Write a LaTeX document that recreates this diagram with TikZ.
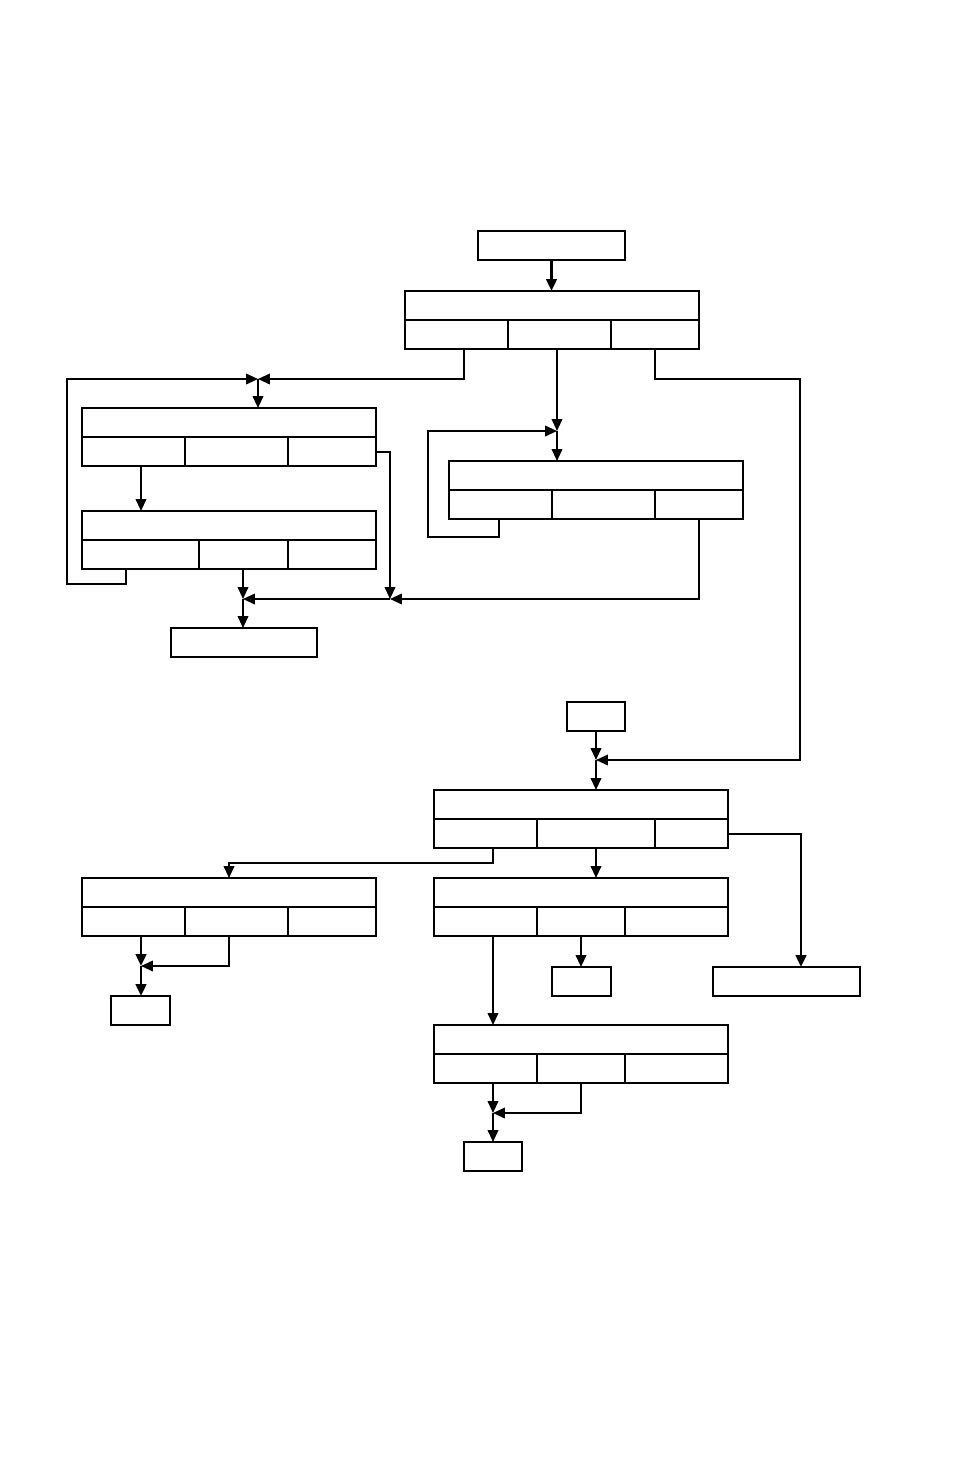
\documentclass[tikz,border=0pt]{standalone}
\usetikzlibrary{arrows.meta,calc}
\tikzset{
  box/.style={draw, line width=1.1pt, inner sep=0pt, outer sep=0pt},
  arr/.style={-{Triangle[length=6.8pt,width=6pt]}, line width=1.1pt},
}
\newcommand{\bx}[5]{\node[box, anchor=north west, minimum width={(#4-#2)*0.02cm}, minimum height={(#5-#3)*0.02cm}] (#1) at (#2,#3) {};}
% name x1 x2 y1 ysplit y2 d1 d2
\newcommand{\tri}[8]{%
  \bx{#1t}{#2}{#4}{#3}{#5}
  \bx{#1a}{#2}{#5}{#7}{#6}
  \bx{#1b}{#7}{#5}{#8}{#6}
  \bx{#1c}{#8}{#5}{#3}{#6}}
\begin{document}
\begin{tikzpicture}[x=0.02cm,y=-0.02cm]
\useasboundingbox (0,0) rectangle (954,1474);
% boxes
\bx{top}{478}{231}{625}{260}
\tri{A}{405}{699}{291}{320}{349}{508}{611}
\tri{B}{82}{376}{408}{437}{466}{185}{288}
\tri{C}{82}{376}{511}{540}{569}{199}{288}
\bx{D}{171}{628}{317}{657}
\tri{E}{449}{743}{461}{490}{519}{552}{655}
\bx{F}{567}{702}{625}{731}
\tri{G}{434}{728}{790}{819}{848}{537}{655}
\tri{H}{82}{376}{878}{907}{936}{185}{288}
\tri{I}{434}{728}{878}{907}{936}{537}{625}
\bx{J}{713}{967}{860}{996}
\bx{K}{111}{996}{170}{1025}
\bx{L}{552}{967}{611}{996}
\tri{M}{434}{728}{1025}{1054}{1083}{537}{625}
\bx{N}{464}{1142}{522}{1171}
% junctions and bends
\coordinate (j1) at (258,379);
\coordinate (lp0) at (67,584);
\coordinate (j2) at (243,599);
\coordinate (j3) at (390,599);
\coordinate (j4) at (557,431);
\coordinate (lp1) at (428,537);
\coordinate (rp1) at (800,379);
\coordinate (j5) at (596,760);
\coordinate (g1) at (229,863);
\coordinate (j6) at (141,966);
\coordinate (j7) at (493,1113);
% connectors
\draw[arr, line width=1.5pt] (top.south) -- (top.south |- At.north);
\draw[arr] ($(Aa.south west)+(59,0)$) |- (j1);
\draw[arr] ($(Ca.south west)+(44,0)$) |- (lp0) |- (j1);
\draw[arr] (j1) -- (j1 |- Bt.north);
\draw[arr] ($(Ba.south west)+(59,0)$) coordinate (q1) -- (q1 |- Ct.north);
\draw[arr] ($(Cb.south west)+(44,0)$) -- (j2);
\draw[arr] (j2) -- (j2 |- D.north);
\draw[arr] ($(Bc.south east)+(0,-14)$) -| (j3);
\draw[arr] ($(Ec.south west)+(44,0)$) |- (j3);
\draw[arr] (j3) -- (j2);
\draw[arr] ($(Ab.south west)+(49,0)$) -- (j4);
\draw[arr] ($(Ea.south west)+(50,0)$) |- (lp1) |- (j4);
\draw[arr] (j4) -- (j4 |- Et.north);
\draw[arr] ($(Ac.south west)+(44,0)$) |- (rp1) |- (j5);
\draw[arr] (F.south) -- (j5);
\draw[arr] (j5) -- (j5 |- Gt.north);
\draw[arr] ($(Ga.south west)+(59,0)$) |- (g1) -- (g1 |- Ht.north);
\draw[arr] ($(Gb.south west)+(59,0)$) coordinate (q2) -- (q2 |- It.north);
\draw[arr, line width=1.5pt] ($(Gc.south east)+(0,-14)$) -| ($(J.north west)+(88,0)$);
\draw[arr, line width=1.5pt] ($(Ha.south west)+(59,0)$) -- (j6);
\draw[arr] ($(Hb.south west)+(44,0)$) |- (j6);
\draw[arr, line width=1.5pt] (j6) -- (j6 |- K.north);
\draw[arr] ($(Ib.south west)+(44,0)$) coordinate (q3) -- (q3 |- L.north);
\draw[arr] ($(Ia.south west)+(59,0)$) coordinate (q4) -- (q4 |- Mt.north);
\draw[arr] ($(Ma.south west)+(59,0)$) -- (j7);
\draw[arr] ($(Mb.south west)+(44,0)$) |- (j7);
\draw[arr] (j7) -- (j7 |- N.north);
\end{tikzpicture}
\end{document}
